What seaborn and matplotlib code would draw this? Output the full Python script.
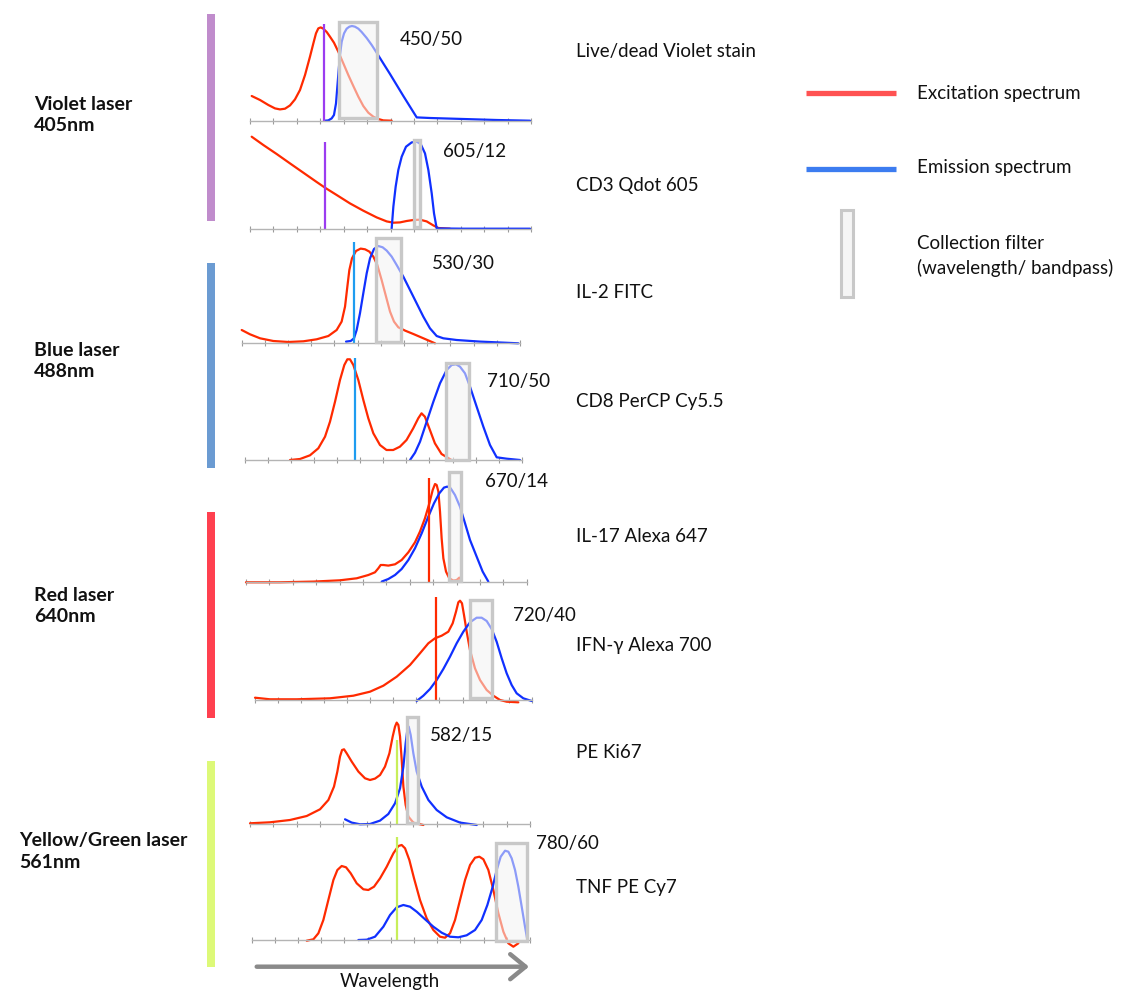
import numpy as np
import matplotlib
matplotlib.use("Agg")
import matplotlib.pyplot as plt
from matplotlib.patches import Rectangle
import seaborn as sns

sns.set_theme(style="white")
plt.rcParams["font.family"] = ["Lato", "DejaVu Sans"]

W, H = 1122, 992

# ---------------- data ----------------
FLUORS = ["Live/dead Violet stain", "CD3 Qdot 605", "IL-2 FITC", "CD8 PerCP Cy5.5",
          "IL-17 Alexa 647", "IFN-\u03b3 Alexa 700", "PE Ki67", "TNF PE Cy7"]
LASER_NM = [405, 405, 488, 488, 640, 640, 561, 561]
FILTER_CENTER = [450, 605, 530, 710, 670, 720, 582, 780]
FILTER_BAND = [50, 12, 30, 50, 14, 40, 15, 60]
LASER_GROUPS = ["Violet laser\n405nm", "Blue laser\n488nm",
                "Red laser\n640nm", "Yellow/Green laser\n561nm"]

# Live/dead Violet
EX1_NM = [308.6, 319.7, 330.8, 339.7, 346.3, 353.0, 359.7, 366.3, 373.0, 379.7, 386.3, 390.8,
          394.3, 397.4, 400.6, 404.1, 408.6, 413.0, 418.3, 424.1, 430.8, 437.4, 444.1, 450.8,
          457.4, 464.1, 470.8, 477.4, 484.1, 495.2]
EX1_Y = [0.247, 0.207, 0.157, 0.123, 0.113, 0.12, 0.153, 0.213, 0.307, 0.457, 0.64, 0.773,
         0.873, 0.923, 0.933, 0.92, 0.887, 0.84, 0.78, 0.69, 0.573, 0.457, 0.347, 0.24,
         0.147, 0.08, 0.04, 0.017, 0.003, 0.0]
EM1_NM = [406.3, 410.8, 415.2, 418.3, 421.0, 422.8, 424.6, 426.3, 428.6, 431.7, 435.2, 438.8,
          442.3, 446.3, 450.8, 455.2, 461.9, 468.6, 475.2, 484.1, 493.0, 501.9, 510.8, 519.7,
          528.6, 546.3, 590.8, 635.2, 679.7]
EM1_Y = [0.0, 0.003, 0.023, 0.057, 0.173, 0.34, 0.507, 0.657, 0.79, 0.873, 0.92, 0.94,
         0.947, 0.94, 0.92, 0.887, 0.827, 0.757, 0.68, 0.573, 0.467, 0.357, 0.247, 0.14,
         0.033, 0.027, 0.017, 0.007, 0.0]

# Qdot 605
EX2_NM = [245.6, 270.9, 299.9, 328.9, 357.9, 386.9, 405.0, 430.4, 459.3, 488.3, 517.3, 539.1,
          553.6, 568.0, 582.5, 597.0, 611.5, 626.0, 640.5, 651.4, 676.7]
EX2_Y = [0.92, 0.837, 0.747, 0.653, 0.56, 0.467, 0.41, 0.337, 0.253, 0.18, 0.113, 0.073,
         0.06, 0.063, 0.077, 0.087, 0.09, 0.073, 0.033, 0.007, 0.0]
EM2_NM = [549.9, 553.6, 558.6, 564.4, 571.7, 581.1, 593.4, 604.3, 613.0, 622.4, 629.7, 637.0,
          642.0, 647.8, 705.7, 850.7]
EM2_Y = [0.0, 0.22, 0.42, 0.587, 0.72, 0.82, 0.863, 0.87, 0.847, 0.753, 0.587, 0.353,
         0.153, 0.003, 0.0, 0.0]

# FITC
EX3_NM = [353.3, 363.3, 375.4, 391.4, 409.5, 427.6, 443.6, 457.7, 467.7, 473.7, 477.8, 480.6,
          483.0, 486.2, 491.0, 496.6, 501.9, 507.1, 511.9, 516.7, 521.9, 527.2, 532.0, 536.8,
          542.0, 550.1, 560.1, 572.2, 586.2]
EX3_Y = [0.133, 0.09, 0.05, 0.023, 0.013, 0.02, 0.04, 0.073, 0.133, 0.217, 0.367, 0.567,
         0.733, 0.85, 0.923, 0.947, 0.94, 0.917, 0.867, 0.783, 0.633, 0.467, 0.317, 0.217,
         0.16, 0.127, 0.093, 0.05, 0.0]
EM3_NM = [479.0, 484.6, 488.6, 491.8, 495.8, 499.8, 503.9, 507.9, 512.7, 517.9, 523.1, 528.0,
          534.0, 540.0, 548.0, 556.1, 564.1, 572.1, 580.1, 588.2, 596.2, 612.2, 640.4, 686.6]
EM3_Y = [0.017, 0.023, 0.05, 0.133, 0.3, 0.5, 0.7, 0.85, 0.943, 0.973, 0.96, 0.927,
         0.867, 0.783, 0.667, 0.533, 0.4, 0.267, 0.15, 0.073, 0.05, 0.033, 0.017, 0.0]

# PerCP-Cy5.5
EX4_NM = [349.3, 370.8, 392.3, 410.2, 424.6, 435.3, 446.1, 456.8, 466.1, 472.6, 478.3, 485.5,
          496.2, 507.0, 517.7, 528.5, 542.8, 556.8, 571.2, 585.6, 599.9, 614.3, 625.1, 632.2,
          639.4, 650.2, 660.9, 675.2, 696.7]
EX4_Y = [0.0, 0.01, 0.047, 0.117, 0.233, 0.383, 0.583, 0.8, 0.95, 1.007, 1.007, 0.95,
         0.8, 0.6, 0.417, 0.267, 0.15, 0.1, 0.1, 0.133, 0.2, 0.317, 0.417, 0.467,
         0.433, 0.3, 0.167, 0.06, 0.0]
EM4_NM = [607.4, 618.1, 628.9, 643.2, 657.6, 671.9, 686.2, 697.0, 706.3, 714.9, 725.6, 736.4,
          750.7, 765.1, 779.4, 793.8, 815.3, 843.9]
EM4_Y = [0.0, 0.073, 0.183, 0.383, 0.583, 0.767, 0.9, 0.95, 0.957, 0.933, 0.867, 0.733,
         0.533, 0.333, 0.15, 0.027, 0.013, 0.0]

# Alexa 647
EX5_NM = [427.2, 466.7, 505.5, 536.5, 555.9, 569.5, 577.2, 581.1, 583.8, 586.9, 592.7, 600.5,
          608.2, 616.0, 623.7, 629.5, 635.3, 640.4, 644.3, 647.0, 648.9, 650.9, 652.8, 654.7,
          656.7, 659.8, 663.6, 668.3, 672.2, 675.3, 678.0]
EX5_Y = [0.0, 0.0, 0.007, 0.02, 0.04, 0.073, 0.1, 0.14, 0.173, 0.173, 0.167, 0.18,
         0.223, 0.3, 0.4, 0.507, 0.64, 0.79, 0.923, 0.983, 0.973, 0.907, 0.707, 0.44,
         0.24, 0.107, 0.04, 0.017, 0.023, 0.047, 0.013]
EM5_NM = [585.0, 592.7, 600.5, 608.2, 616.0, 623.7, 631.5, 639.2, 645.8, 652.0, 657.4, 661.3,
          665.2, 670.2, 676.0, 681.9, 687.7, 695.4, 702.4, 709.0]
EM5_Y = [0.007, 0.033, 0.073, 0.133, 0.223, 0.34, 0.49, 0.657, 0.79, 0.89, 0.947, 0.957,
         0.94, 0.873, 0.757, 0.59, 0.423, 0.257, 0.107, 0.007]

# Alexa 700
EX6_NM = [316.8, 343.6, 391.2, 450.7, 492.4, 522.1, 546.0, 569.8, 593.6, 611.4, 626.3, 638.2,
          650.1, 662.0, 669.8, 675.7, 679.9, 682.9, 686.4, 690.0, 694.8, 700.7, 709.6, 718.6,
          730.5, 742.4, 754.3, 766.2, 787.0]
EX6_Y = [0.023, 0.007, 0.007, 0.017, 0.043, 0.083, 0.143, 0.233, 0.35, 0.467, 0.567, 0.617,
         0.643, 0.683, 0.767, 0.883, 0.977, 0.993, 0.967, 0.85, 0.683, 0.5, 0.317, 0.2,
         0.1, 0.043, 0.0, -0.017, -0.023]
EM6_NM = [605.5, 617.4, 629.3, 641.2, 653.1, 665.0, 676.9, 688.8, 700.7, 712.6, 721.5, 730.5,
          739.4, 748.3, 757.3, 766.2, 775.1, 784.0, 795.9, 810.8]
EM6_Y = [-0.01, 0.043, 0.11, 0.2, 0.31, 0.433, 0.567, 0.683, 0.777, 0.823, 0.823, 0.79,
         0.71, 0.583, 0.417, 0.267, 0.15, 0.067, 0.017, -0.01]

# PE
EX7_NM = [368.0, 394.3, 420.6, 442.6, 460.1, 471.1, 478.5, 482.9, 486.4, 489.1, 491.7, 495.2,
          501.8, 510.6, 519.3, 525.9, 532.5, 539.1, 545.6, 551.4, 555.7, 558.8, 561.0, 563.2,
          565.4, 567.6, 569.8, 572.8, 576.4, 582.9, 591.7, 596.1]
EX7_Y = [0.01, 0.02, 0.043, 0.083, 0.15, 0.243, 0.377, 0.527, 0.677, 0.743, 0.75, 0.71,
         0.627, 0.527, 0.46, 0.443, 0.457, 0.493, 0.577, 0.71, 0.877, 0.977, 1.017, 0.993,
         0.877, 0.643, 0.377, 0.193, 0.077, 0.017, 0.0, -0.007]
EM7_NM = [493.0, 501.8, 512.8, 525.9, 539.1, 550.0, 558.8, 565.4, 569.8, 572.8, 575.0, 576.8,
          579.4, 582.9, 587.3, 593.9, 602.7, 613.6, 626.8, 644.3, 666.3]
EM7_Y = [0.05, 0.017, 0.0, 0.003, 0.037, 0.103, 0.21, 0.36, 0.577, 0.81, 0.943, 0.977,
         0.893, 0.71, 0.527, 0.377, 0.243, 0.143, 0.07, 0.017, -0.007]

# PE-Cy7
EX8_NM = [389.6, 402.3, 411.8, 421.3, 430.8, 440.4, 448.0, 456.2, 464.5, 473.4, 484.8, 497.5,
          507.0, 517.8, 529.3, 542.0, 554.7, 564.2, 570.5, 576.9, 585.1, 594.0, 605.4, 618.1,
          630.8, 643.5, 653.1, 662.6, 672.1, 681.6, 691.2, 700.7, 710.2, 718.5, 726.1, 735.6,
          745.1, 754.7, 764.2, 773.7, 783.2, 792.7]
EX8_Y = [-0.007, 0.007, 0.067, 0.2, 0.4, 0.6, 0.7, 0.74, 0.727, 0.667, 0.567, 0.507,
         0.5, 0.533, 0.617, 0.733, 0.867, 0.94, 0.95, 0.917, 0.8, 0.617, 0.4, 0.217,
         0.1, 0.033, 0.023, 0.067, 0.2, 0.4, 0.6, 0.75, 0.823, 0.833, 0.807, 0.7,
         0.5, 0.267, 0.083, -0.033, -0.067, -0.033]
EM8_NM = [488.0, 503.9, 519.7, 535.6, 548.3, 561.0, 573.7, 586.4, 599.1, 615.0, 630.8, 646.7,
          662.6, 678.5, 694.3, 710.2, 722.9, 733.7, 743.9, 751.5, 759.1, 767.4, 773.7, 780.0,
          786.4, 792.7, 799.1, 805.4, 809.9]
EM8_Y = [0.0, 0.003, 0.033, 0.133, 0.25, 0.327, 0.35, 0.333, 0.283, 0.207, 0.133, 0.073,
         0.033, 0.027, 0.047, 0.1, 0.2, 0.35, 0.533, 0.7, 0.833, 0.893, 0.883, 0.817,
         0.7, 0.533, 0.333, 0.133, 0.0]

EXCITATION = [(EX1_NM, EX1_Y), (EX2_NM, EX2_Y), (EX3_NM, EX3_Y), (EX4_NM, EX4_Y),
              (EX5_NM, EX5_Y), (EX6_NM, EX6_Y), (EX7_NM, EX7_Y), (EX8_NM, EX8_Y)]
EMISSION = [(EM1_NM, EM1_Y), (EM2_NM, EM2_Y), (EM3_NM, EM3_Y), (EM4_NM, EM4_Y),
            (EM5_NM, EM5_Y), (EM6_NM, EM6_Y), (EM7_NM, EM7_Y), (EM8_NM, EM8_Y)]

# ---------------- layout ----------------
# per panel: axis left/right px, baseline px, laser-line px, px per nm
PANEL_GEOM = [
    (250.0, 531.0, 120.7, 324.0, 0.75),
    (250.0, 531.0, 228.7, 325.0, 0.46),
    (241.7, 520.0, 343.3, 353.5, 0.83),
    (245.0, 521.7, 460.0, 354.5, 0.465),
    (246.0, 526.7, 582.3, 429.0, 0.86),
    (255.0, 531.7, 700.0, 436.0, 0.56),
    (250.0, 530.0, 824.3, 396.7, 0.76),
    (251.7, 530.0, 940.0, 396.7, 0.525),
]
PANEL_H = 100.0
LASER_TOP = [0.967, 0.867, 1.016, 1.017, 1.04, 1.033, 0.843, 1.033]
BOX_Y = [(0.027, 0.99), (0.02, 0.887), (0.016, 1.05), (0.0, 0.967),
         (0.013, 1.10), (0.023, 1.0), (0.01, 1.07), (-0.007, 0.967)]
FILTER_LABEL_XY = [(400, 40), (442.7, 152), (431.7, 263.5), (486.7, 382),
                   (485, 482), (512.7, 616), (430, 736), (536, 844)]
FLUOR_LABEL_Y = [51.7, 185, 293, 401, 537, 645, 752, 888]
GROUP_LABEL_XY = [(34, 115), (34, 361), (34, 606), (19.3, 851.5)]
GROUP_BAR_Y = [(14, 220.7), (263, 468), (512, 718), (760.7, 966.7)]

EX_COLOR = "#ff2a00"
EM_COLOR = "#1030ff"
LASER_COLORS = ["#9b3cf0", "#9b3cf0", "#1e9cf0", "#1e9cf0",
                "#ff2a00", "#ff2a00", "#c8ee5a", "#c8ee5a"]
BAR_COLORS = ["#c08ccc", "#6b9bd2", "#ff404f", "#ddf978"]
TEXT_COLOR = "#111111"
FS = 13.5
FS_BOLD = 14

fig = plt.figure(figsize=(W / 100, H / 100), dpi=100)
fig.patch.set_facecolor("white")

# full-figure layer for labels, bars, legend and arrow (pixel coordinates)
over = fig.add_axes([0, 0, 1, 1])
over.set_xlim(0, W)
over.set_ylim(H, 0)
over.axis("off")

for i in range(8):
    left, right, base, anchor, s = PANEL_GEOM[i]
    laser = LASER_NM[i]
    lo = laser + (left - anchor) / s
    hi = laser + (right - anchor) / s
    ax = fig.add_axes([left / W, 1 - base / H, (right - left) / W, PANEL_H / H])
    ax.patch.set_alpha(0)
    ax.set_xlim(lo, hi)
    ax.set_ylim(0, 1)

    exn, exy = EXCITATION[i]
    emn, emy = EMISSION[i]
    sns.lineplot(x=exn, y=exy, ax=ax, color=EX_COLOR, linewidth=1.6,
                 sort=False, estimator=None, zorder=2)
    sns.lineplot(x=emn, y=emy, ax=ax, color=EM_COLOR, linewidth=1.6,
                 sort=False, estimator=None, zorder=2)
    ax.plot([laser, laser], [0, LASER_TOP[i]], color=LASER_COLORS[i],
            linewidth=1.6, zorder=2.5, solid_capstyle="butt")

    # collection filter: centre / bandpass
    c, bw = FILTER_CENTER[i], FILTER_BAND[i]
    y0, y1 = BOX_Y[i]
    ax.add_patch(Rectangle((c - bw / 2, y0), bw, y1 - y0, facecolor=(0.955, 0.955, 0.955, 0.55),
                           edgecolor="none", zorder=3))
    ax.add_patch(Rectangle((c - bw / 2, y0), bw, y1 - y0, fill=False,
                           edgecolor="#c8c8c8", linewidth=2.4, zorder=4))

    for art in ax.lines + ax.patches:
        art.set_clip_on(False)
    for ln in ax.lines:
        ln.set_solid_joinstyle("round")

    ax.set_xticks(np.linspace(lo, hi, 13))
    ax.set_yticks([])
    ax.tick_params(axis="x", bottom=True, direction="inout", length=4, width=0.8,
                   color="#9a9a9a", labelbottom=False)
    for side in ("top", "right", "left"):
        ax.spines[side].set_visible(False)
    ax.spines["bottom"].set_color("#b4b4b4")
    ax.spines["bottom"].set_linewidth(1.0)
    ax.set_xlabel("")
    ax.set_ylabel("")

    fx, fy = FILTER_LABEL_XY[i]
    over.text(fx, fy, f"{c}/{bw}", fontsize=FS, color=TEXT_COLOR, ha="left", va="center")
    over.text(576, FLUOR_LABEL_Y[i], FLUORS[i], fontsize=FS, color=TEXT_COLOR,
              ha="left", va="center")

# laser groups
for g in range(4):
    gx, gy = GROUP_LABEL_XY[g]
    over.text(gx, gy, LASER_GROUPS[g], fontsize=FS_BOLD, fontweight="bold", color=TEXT_COLOR,
              ha="left", va="center", linespacing=1.35)
    b0, b1 = GROUP_BAR_Y[g]
    over.add_patch(Rectangle((206.7, b0), 8.3, b1 - b0, facecolor=BAR_COLORS[g],
                             edgecolor="none"))

# legend
over.plot([806, 896], [93, 93], color="#ff5252", linewidth=3.8, solid_capstyle="butt")
over.text(917, 93, "Excitation spectrum", fontsize=FS, color=TEXT_COLOR, va="center")
over.plot([806, 896], [169, 169], color="#3c7cf0", linewidth=3.8, solid_capstyle="butt")
over.text(917, 168, "Emission spectrum", fontsize=FS, color=TEXT_COLOR, va="center")
over.add_patch(Rectangle((840.7, 210), 12.5, 87, facecolor="#f5f5f5",
                         edgecolor="#c8c8c8", linewidth=2.2))
over.text(917, 256, "Collection filter\n(wavelength/ bandpass)", fontsize=FS,
          color=TEXT_COLOR, va="center", linespacing=1.4)

# wavelength arrow
over.annotate("", xy=(529, 966.7), xytext=(256.7, 966.7),
              arrowprops=dict(arrowstyle="->,head_length=0.55,head_width=0.45",
                              color="#8a8a8a", linewidth=3.2, mutation_scale=20,
                              shrinkA=0, shrinkB=0))
over.text(390, 981.5, "Wavelength", fontsize=FS, color=TEXT_COLOR, ha="center", va="center")

fig.savefig("out.png", dpi=100, facecolor="white")
